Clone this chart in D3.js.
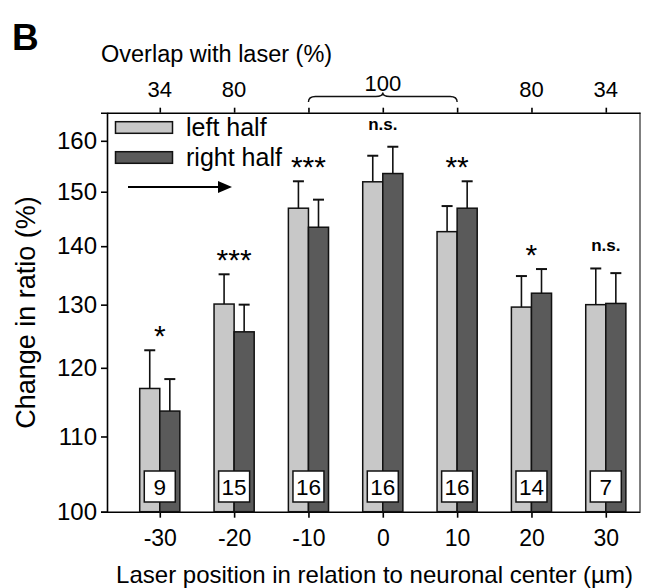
<!DOCTYPE html>
<html>
<head>
<meta charset="utf-8">
<script src="https://cdn.jsdelivr.net/npm/d3@7"></script>
<style>
  body { margin: 0; background: #fff; }
  text { font-family: "Liberation Sans", Arial, sans-serif; fill: #000; }
</style>
</head>
<body>
<div id="vis"></div>
<script>
// DATA
const positions = [-30, -20, -10, 0, 10, 20, 30];
const leftHalf = [116.9, 130.1, 146.9, 151.9, 142.6, 129.6, 130.0];
const rightHalf = [113.6, 125.6, 143.4, 153.5, 146.9, 131.9, 130.2];
const leftSem = [5.8, 5.0, 5.1, 5.1, 4.7, 5.2, 6.1];
const rightSem = [4.7, 4.4, 5.1, 5.3, 5.1, 4.1, 5.1];
const nCells = [9, 15, 16, 16, 16, 14, 7];
const sigLabels = ["*", "***", "***", "n.s.", "**", "*", "n.s."];
const overlapLabels = ["34", "80", "", "100", "", "80", "34"];
const yTicks = [100, 110, 120, 130, 140, 150, 160];
const seriesNames = ["left half", "right half"];
const colors = ["#c8c8c8", "#5a5a5a"];

const width = 646, height = 588;
const margin = { left: 107, right: 6, top: 112.7, bottom: 76.3 };

const svg = d3.select("#vis").append("svg")
  .attr("width", width).attr("height", height);

// SCALES
const x = d3.scaleLinear().domain([-37.1, 34.6]).range([margin.left, width - margin.right]);
const y = d3.scaleLog().domain([100, 165.8]).range([height - margin.bottom, margin.top]);
const barW = x(2.7) - x(0);

// AXES
const yAxis = svg.append("g").attr("transform", `translate(${margin.left},0)`)
  .call(d3.axisLeft(y).tickValues(yTicks).tickFormat(d => String(d)).tickSize(6));
yAxis.selectAll("text").attr("font-size", 24).attr("x", -10);

const xAxis = svg.append("g").attr("transform", `translate(0,${y(100)})`)
  .call(d3.axisBottom(x).tickValues(positions).tickFormat(d => String(d)).tickSize(6).tickSizeOuter(0));
xAxis.selectAll("text").attr("font-size", 23).attr("dy", "1.1em");

const topAxis = svg.append("g").attr("transform", `translate(0,${margin.top})`)
  .call(d3.axisTop(x).tickValues(positions).tickFormat("").tickSize(5).tickSizeOuter(0));

svg.append("line")
  .attr("x1", x.range()[1]).attr("x2", x.range()[1])
  .attr("y1", margin.top).attr("y2", y(100))
  .attr("stroke", "#000");

svg.selectAll(".domain, .tick line").attr("stroke", "#000").attr("stroke-width", 1.6);

// BARS
const groups = svg.append("g").selectAll("g").data(positions).join("g");
[leftHalf, rightHalf].forEach((vals, s) => {
  const sem = s === 0 ? leftSem : rightSem;
  const off = s === 0 ? -barW : 0;
  groups.append("rect")
    .attr("x", (d, i) => x(d) + off)
    .attr("y", (d, i) => y(vals[i]))
    .attr("width", barW)
    .attr("height", (d, i) => y(100) - y(vals[i]))
    .attr("fill", colors[s])
    .attr("stroke", "#111").attr("stroke-width", 1.5);
  // error bars (upper only)
  groups.append("line")
    .attr("x1", (d) => x(d) + off + barW / 2).attr("x2", (d) => x(d) + off + barW / 2)
    .attr("y1", (d, i) => y(vals[i])).attr("y2", (d, i) => y(vals[i] + sem[i]))
    .attr("stroke", "#111").attr("stroke-width", 1.6);
  groups.append("line")
    .attr("x1", (d) => x(d) + off + barW / 2 - 5.5).attr("x2", (d) => x(d) + off + barW / 2 + 5.5)
    .attr("y1", (d, i) => y(vals[i] + sem[i])).attr("y2", (d, i) => y(vals[i] + sem[i]))
    .attr("stroke", "#111").attr("stroke-width", 2);
});

// significance
groups.append("text")
  .attr("x", d => x(d))
  .attr("y", (d, i) => {
    const top = Math.max(leftHalf[i] + leftSem[i], rightHalf[i] + rightSem[i]);
    return sigLabels[i] === "n.s." ? y(top) - 17 : y(top) - 4;
  })
  .attr("text-anchor", "middle")
  .attr("font-size", (d, i) => sigLabels[i] === "n.s." ? 17 : 30)
  .attr("font-weight", (d, i) => sigLabels[i] === "n.s." ? "bold" : "normal")
  .text((d, i) => sigLabels[i]);

// n boxes
groups.append("rect")
  .attr("x", d => x(d) - 15.5).attr("y", 471)
  .attr("width", 31).attr("height", 31)
  .attr("fill", "#fff").attr("stroke", "#111").attr("stroke-width", 1.5);
groups.append("text")
  .attr("x", d => x(d)).attr("y", 495)
  .attr("text-anchor", "middle").attr("font-size", 22.5)
  .text((d, i) => nCells[i]);

// top overlap labels
svg.append("g").selectAll("text").data(positions).join("text")
  .attr("x", d => x(d))
  .attr("y", (d, i) => overlapLabels[i] === "100" ? 90.5 : 97)
  .attr("text-anchor", "middle").attr("font-size", 22)
  .text((d, i) => overlapLabels[i]);

// brace
const bx0 = x(-10), bx1 = x(10), bm = x(0);
svg.append("path")
  .attr("d", `M${bx0},102 Q${bx0},96.5 ${bx0 + 7},96.5 L${bm - 7},96.5 Q${bm},96.5 ${bm},92.5 Q${bm},96.5 ${bm + 7},96.5 L${bx1 - 7},96.5 Q${bx1},96.5 ${bx1},102`)
  .attr("fill", "none").attr("stroke", "#111").attr("stroke-width", 1.4);

svg.append("text").attr("x", 101).attr("y", 61.5).attr("font-size", 23.5)
  .text("Overlap with laser (%)");

// legend
const legend = svg.append("g");
seriesNames.forEach((name, s) => {
  legend.append("rect").attr("x", 115.5).attr("y", 121.7 + s * 30)
    .attr("width", 57).attr("height", 11.6)
    .attr("fill", colors[s]).attr("stroke", "#111").attr("stroke-width", 1.5);
  legend.append("text").attr("x", 186).attr("y", 136 + s * 30)
    .attr("font-size", 25).text(name);
});

// arrow
svg.append("line").attr("x1", 128).attr("x2", 220).attr("y1", 187).attr("y2", 187)
  .attr("stroke", "#000").attr("stroke-width", 2);
svg.append("path").attr("d", "M218,181 L232,187 L218,193 Z").attr("fill", "#000");

// axis titles
svg.append("text").attr("x", 374.5).attr("y", 583)
  .attr("text-anchor", "middle").attr("font-size", 24)
  .text("Laser position in relation to neuronal center (µm)");
svg.append("text")
  .attr("transform", `translate(35,312.5) rotate(-90)`)
  .attr("text-anchor", "middle").attr("font-size", 27)
  .text("Change in ratio (%)");

svg.append("text").attr("x", 12).attr("y", 50).attr("font-size", 37).attr("font-weight", "bold")
  .text("B");
</script>
</body>
</html>
